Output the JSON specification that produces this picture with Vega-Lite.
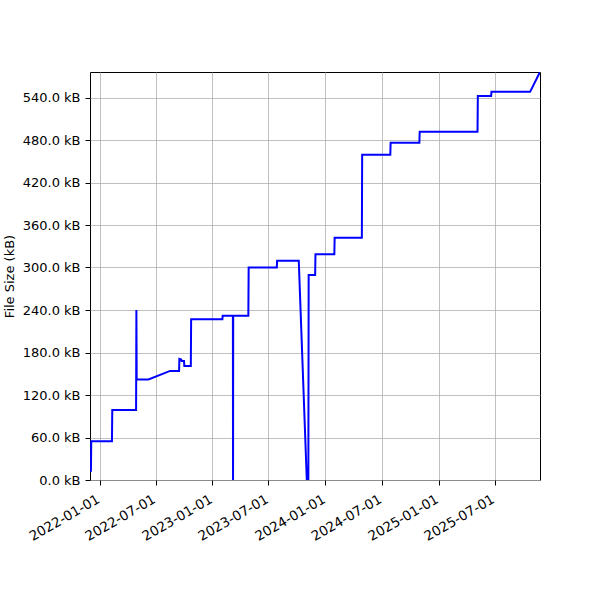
{
  "$schema": "https://vega.github.io/schema/vega-lite/v6.json",
  "width": 450,
  "height": 408,
  "autosize": "none",
  "padding": {"left": 90, "top": 72, "right": 60, "bottom": 120},
  "data": {
    "values": [
      {"date": "2021-12-04", "size_kb": 11.7},
      {"date": "2021-12-05", "size_kb": 54.6},
      {"date": "2022-02-10", "size_kb": 54.6},
      {"date": "2022-02-11", "size_kb": 98.8},
      {"date": "2022-04-29", "size_kb": 98.8},
      {"date": "2022-04-30", "size_kb": 240},
      {"date": "2022-05-01", "size_kb": 142},
      {"date": "2022-06-08", "size_kb": 142},
      {"date": "2022-08-17", "size_kb": 154},
      {"date": "2022-09-15", "size_kb": 154},
      {"date": "2022-09-16", "size_kb": 171},
      {"date": "2022-09-22", "size_kb": 170},
      {"date": "2022-09-23", "size_kb": 168},
      {"date": "2022-10-01", "size_kb": 168},
      {"date": "2022-10-02", "size_kb": 161},
      {"date": "2022-10-23", "size_kb": 161},
      {"date": "2022-10-24", "size_kb": 227},
      {"date": "2023-02-02", "size_kb": 227},
      {"date": "2023-02-03", "size_kb": 232},
      {"date": "2023-03-08", "size_kb": 232},
      {"date": "2023-03-08T12:00:00Z", "size_kb": 0},
      {"date": "2023-03-09", "size_kb": 232},
      {"date": "2023-04-27", "size_kb": 232},
      {"date": "2023-04-28", "size_kb": 300},
      {"date": "2023-07-28", "size_kb": 300},
      {"date": "2023-07-29", "size_kb": 309.6},
      {"date": "2023-10-07", "size_kb": 309.6},
      {"date": "2023-11-02", "size_kb": 0},
      {"date": "2023-11-07", "size_kb": 0},
      {"date": "2023-11-08", "size_kb": 289.4},
      {"date": "2023-11-29", "size_kb": 289.4},
      {"date": "2023-11-30", "size_kb": 318.6},
      {"date": "2024-01-30", "size_kb": 318.6},
      {"date": "2024-01-31", "size_kb": 342},
      {"date": "2024-04-28", "size_kb": 342},
      {"date": "2024-04-29", "size_kb": 459.3},
      {"date": "2024-07-29", "size_kb": 459.3},
      {"date": "2024-07-30", "size_kb": 476},
      {"date": "2024-10-31", "size_kb": 476},
      {"date": "2024-11-01", "size_kb": 491.7},
      {"date": "2025-05-07", "size_kb": 491.7},
      {"date": "2025-05-08", "size_kb": 542},
      {"date": "2025-06-20", "size_kb": 542},
      {"date": "2025-06-21", "size_kb": 548},
      {"date": "2025-10-24", "size_kb": 548},
      {"date": "2025-11-25", "size_kb": 576}
    ]
  },
  "mark": {"type": "line", "color": "#0000ff", "strokeWidth": 2, "clip": true},
  "encoding": {
    "x": {
      "field": "date",
      "type": "temporal",
      "scale": {
        "type": "utc",
        "nice": false,
        "domain": [
          {"year": 2021, "month": 12, "date": 1, "utc": true},
          {"year": 2025, "month": 11, "date": 25, "utc": true}
        ]
      },
      "axis": {
        "title": null,
        "values": [
          {"year": 2022, "month": 1, "date": 1, "utc": true},
          {"year": 2022, "month": 7, "date": 1, "utc": true},
          {"year": 2023, "month": 1, "date": 1, "utc": true},
          {"year": 2023, "month": 7, "date": 1, "utc": true},
          {"year": 2024, "month": 1, "date": 1, "utc": true},
          {"year": 2024, "month": 7, "date": 1, "utc": true},
          {"year": 2025, "month": 1, "date": 1, "utc": true},
          {"year": 2025, "month": 7, "date": 1, "utc": true}
        ],
        "format": "%Y-%m-%d",
        "labelAngle": -30,
        "labelAlign": "right",
        "labelBaseline": "top",
        "labelPadding": 7,
        "labelOffset": -5,
        "labelFontSize": 13.5
      }
    },
    "y": {
      "field": "size_kb",
      "type": "quantitative",
      "scale": {"domain": [0, 576], "nice": false},
      "axis": {
        "title": "File Size (kB)",
        "values": [0, 60, 120, 180, 240, 300, 360, 420, 480, 540],
        "labelExpr": "format(datum.value, '.1f') + ' kB'",
        "labelPadding": 5,
        "titlePadding": 6
      }
    }
  },
  "config": {
    "font": "DejaVu Sans",
    "view": {"stroke": "#000000", "strokeWidth": 1},
    "axis": {
      "domain": false,
      "grid": true,
      "gridColor": "#b0b0b0",
      "gridWidth": 0.8,
      "tickColor": "#000000",
      "tickSize": 5,
      "tickWidth": 1,
      "labelColor": "#000000",
      "labelFont": "DejaVu Sans",
      "labelFontSize": 13,
      "labelFlush": false,
      "labelOverlap": false,
      "titleFont": "DejaVu Sans",
      "titleFontSize": 13,
      "titleFontWeight": "normal",
      "titleColor": "#000000"
    }
  }
}
